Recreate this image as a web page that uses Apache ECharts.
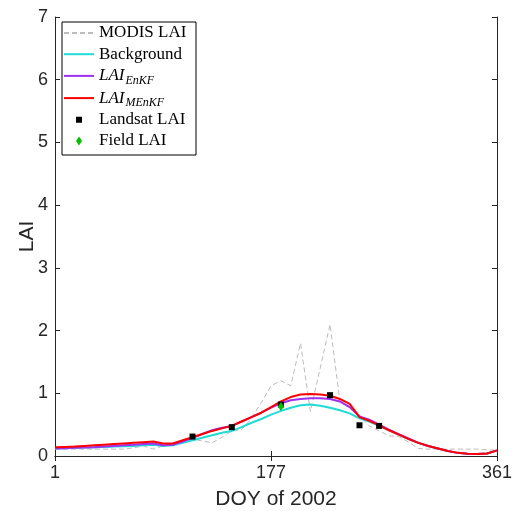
<!DOCTYPE html>
<html>
<head>
<meta charset="utf-8">
<script src="https://cdn.jsdelivr.net/npm/echarts@6/dist/echarts.min.js"></script>
<style>
  html, body { margin: 0; padding: 0; background: #fff; }
  #chart { width: 512px; height: 511px; }
</style>
</head>
<body>
<div id="chart"></div>
<script>
// 8-day composite dates (day of year, 2002)
const doy = [1, 9, 17, 25, 33, 41, 49, 57, 65, 73, 81, 89, 97, 105, 113, 121, 129, 137, 145, 153,
  161, 169, 177, 185, 193, 201, 209, 217, 225, 233, 241, 249, 257, 265, 273, 281, 289, 297, 305, 313,
  321, 329, 337, 345, 353, 361];

const modisLai = [0.11, 0.11, 0.11, 0.11, 0.11, 0.11, 0.11, 0.11, 0.13, 0.16, 0.11, 0.16, 0.18, 0.24, 0.27, 0.24, 0.21, 0.30, 0.40, 0.42,
  0.60, 0.85, 1.12, 1.20, 1.12, 1.80, 0.71, 1.40, 2.10, 0.88, 0.76, 0.64, 0.48, 0.40, 0.32, 0.31, 0.22, 0.12, 0.11, 0.11,
  0.11, 0.11, 0.11, 0.11, 0.10, 0.09];

const backgroundLai = [0.12, 0.125, 0.13, 0.135, 0.14, 0.145, 0.15, 0.155, 0.16, 0.17, 0.18, 0.16, 0.17, 0.21, 0.25, 0.29, 0.33, 0.37, 0.40, 0.46,
  0.53, 0.59, 0.66, 0.72, 0.77, 0.81, 0.82, 0.80, 0.77, 0.73, 0.68, 0.60, 0.55, 0.48, 0.41, 0.34, 0.27, 0.21, 0.16, 0.12,
  0.08, 0.05, 0.035, 0.03, 0.04, 0.09];

const enkfLai = [0.12, 0.125, 0.13, 0.135, 0.14, 0.15, 0.16, 0.17, 0.18, 0.19, 0.20, 0.17, 0.18, 0.23, 0.29, 0.35, 0.41, 0.45, 0.48, 0.55,
  0.62, 0.69, 0.77, 0.84, 0.89, 0.91, 0.92, 0.92, 0.91, 0.87, 0.78, 0.63, 0.58, 0.50, 0.42, 0.35, 0.28, 0.21, 0.16, 0.12,
  0.08, 0.05, 0.035, 0.03, 0.04, 0.09];

const menkfLai = [0.14, 0.145, 0.15, 0.16, 0.17, 0.18, 0.19, 0.20, 0.21, 0.22, 0.23, 0.20, 0.20, 0.25, 0.30, 0.35, 0.40, 0.44, 0.48, 0.55,
  0.62, 0.69, 0.78, 0.87, 0.94, 0.98, 0.99, 0.98, 0.96, 0.91, 0.83, 0.62, 0.56, 0.49, 0.41, 0.34, 0.27, 0.21, 0.16, 0.12,
  0.08, 0.05, 0.035, 0.03, 0.04, 0.09];

// Landsat-derived LAI observations
const landsatDoy = [113, 145, 185, 225, 249, 265];
const landsatLai = [0.31, 0.46, 0.82, 0.97, 0.49, 0.48];

// Field measurement
const fieldDoy = [185];
const fieldLai = [0.79];

const xTicks = [1, 177, 361];
const yTicks = [0, 1, 2, 3, 4, 5, 6, 7];

const pairs = (xs, ys) => xs.map((x, i) => [x, ys[i]]);

const chart = echarts.init(document.getElementById('chart'), null, { renderer: 'canvas' });

const serif = 'Liberation Serif, Times New Roman, serif';
const sans = 'Liberation Sans, Arial, Helvetica, sans-serif';

// legend icon box is 30 x 9; tiny corner specks pin the path bounds to that box
const corners = 'M0,0h0.01v0.01h-0.01zM29.99,8.99h0.01v0.01h-0.01z';
const squareIcon = 'path://' + corners + 'M12,1.5h6v6h-6z';
const diamondIcon = 'path://' + corners + 'M15,0L18,4.5L15,9L12,4.5z';
const lineOnly = { color: 'rgba(0,0,0,0)', borderWidth: 0 };

const legendLabel = {
  'LAI EnKF': '{i|LAI}{s|EnKF}',
  'LAI MEnKF': '{i|LAI}{s|MEnKF}'
};

const option = {
  animation: false,
  backgroundColor: '#fff',
  grid: { left: 55, right: 15, top: 17, bottom: 55, containLabel: false, outerBoundsMode: 'none' },
  legend: {
    orient: 'vertical',
    left: 62,
    top: 22,
    padding: [1, 3, 4, 1],
    itemGap: 1.2,
    itemWidth: 30,
    itemHeight: 9,
    borderColor: '#000',
    borderWidth: 1,
    backgroundColor: '#fff',
    selectedMode: false,
    data: [
      { name: 'MODIS LAI', itemStyle: lineOnly },
      { name: 'Background', itemStyle: lineOnly },
      { name: 'LAI EnKF', itemStyle: lineOnly },
      { name: 'LAI MEnKF', itemStyle: lineOnly },
      { name: 'Landsat LAI', icon: squareIcon },
      { name: 'Field LAI', icon: diamondIcon }
    ],
    formatter: name => legendLabel[name] || name,
    textStyle: {
      fontFamily: serif,
      fontSize: 17,
      color: '#000',
      lineHeight: 20,
      width: 94,
      rich: {
        i: { fontFamily: serif, fontStyle: 'italic', fontSize: 17, lineHeight: 20, color: '#000' },
        s: { fontFamily: serif, fontStyle: 'italic', fontSize: 12, lineHeight: 12, padding: [9, 0, 0, 1], color: '#000' }
      }
    }
  },
  xAxis: [{
    type: 'value',
    min: 1,
    max: 361,
    position: 'bottom',
    name: 'DOY of 2002',
    nameLocation: 'middle',
    nameGap: 33,
    nameMoveOverlap: false,
    nameTextStyle: { fontFamily: sans, fontSize: 21, color: '#262626' },
    axisLine: { show: true, lineStyle: { color: '#262626', width: 1 } },
    axisTick: { show: true, inside: true, length: 5, customValues: xTicks, lineStyle: { color: '#262626' } },
    axisLabel: { show: true, customValues: xTicks, margin: 8, fontFamily: sans, fontSize: 18, color: '#262626' },
    splitLine: { show: false }
  }, {
    type: 'value',
    min: 1,
    max: 361,
    position: 'top',
    axisLine: { show: true, lineStyle: { color: '#262626', width: 1 } },
    axisTick: { show: true, inside: true, length: 5, customValues: xTicks, lineStyle: { color: '#262626' } },
    axisLabel: { show: false },
    splitLine: { show: false }
  }],
  yAxis: [{
    type: 'value',
    min: 0,
    max: 7,
    interval: 1,
    position: 'left',
    name: 'LAI',
    nameLocation: 'middle',
    nameGap: 17,
    nameMoveOverlap: false,
    nameTextStyle: { fontFamily: sans, fontSize: 21, color: '#262626' },
    axisLine: { show: true, lineStyle: { color: '#262626', width: 1 } },
    axisTick: { show: true, inside: true, length: 5, lineStyle: { color: '#262626' } },
    axisLabel: {
      show: true, margin: 7, fontFamily: sans, fontSize: 18, color: '#262626',
      formatter: v => (yTicks.indexOf(v) >= 0 ? String(v) : '')
    },
    splitLine: { show: false }
  }, {
    type: 'value',
    min: 0,
    max: 7,
    interval: 1,
    position: 'right',
    axisLine: { show: true, lineStyle: { color: '#262626', width: 1 } },
    axisTick: { show: true, inside: true, length: 5, lineStyle: { color: '#262626' } },
    axisLabel: { show: false },
    splitLine: { show: false }
  }],
  series: [
    {
      name: 'MODIS LAI',
      type: 'line',
      data: pairs(doy, modisLai),
      showSymbol: false,
      symbol: 'none',
      lineStyle: { color: '#bdbdbd', width: 1, type: [5, 3] },
      itemStyle: { color: '#bdbdbd' },
      z: 2
    },
    {
      name: 'Background',
      type: 'line',
      data: pairs(doy, backgroundLai),
      showSymbol: false,
      symbol: 'none',
      lineStyle: { color: '#1fdcd6', width: 2 },
      itemStyle: { color: '#1fdcd6' },
      z: 3
    },
    {
      name: 'LAI EnKF',
      type: 'line',
      data: pairs(doy, enkfLai),
      showSymbol: false,
      symbol: 'none',
      lineStyle: { color: '#a030f0', width: 2 },
      itemStyle: { color: '#a030f0' },
      z: 4
    },
    {
      name: 'LAI MEnKF',
      type: 'line',
      data: pairs(doy, menkfLai),
      showSymbol: false,
      symbol: 'none',
      lineStyle: { color: '#ff0000', width: 2 },
      itemStyle: { color: '#ff0000' },
      z: 5
    },
    {
      name: 'Landsat LAI',
      type: 'scatter',
      data: pairs(landsatDoy, landsatLai),
      symbol: 'rect',
      symbolSize: 6,
      itemStyle: { color: '#000', opacity: 1 },
      z: 6
    },
    {
      name: 'Field LAI',
      type: 'scatter',
      data: pairs(fieldDoy, fieldLai),
      symbol: 'diamond',
      symbolSize: [6, 9],
      itemStyle: { color: '#00c000', opacity: 1 },
      z: 7
    }
  ]
};

chart.setOption(option);
</script>
</body>
</html>
